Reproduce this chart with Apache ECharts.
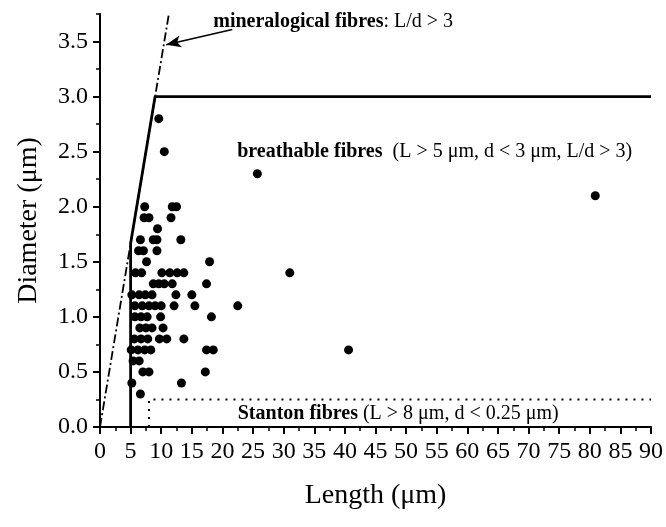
<!DOCTYPE html>
<html>
<head>
<meta charset="utf-8">
<script src="https://cdn.jsdelivr.net/npm/echarts@6/dist/echarts.min.js"></script>
<style>
html,body{margin:0;padding:0;background:#fff;}
#chart{width:666px;height:527px;}
</style>
</head>
<body>
<div id="chart"></div>
<script>
// ---- Data ----
const fibreLength = [
  9.6, 10.5, 25.7, 80.9,
  7.3, 11.8, 12.5,
  7.2, 8.0, 11.6,
  9.4,
  6.6, 8.7, 9.3, 13.2,
  6.3, 7.1, 9.3,
  7.6, 17.9,
  5.8, 6.8, 10.1, 11.4, 12.6, 13.7, 31.0,
  8.7, 9.6, 10.5, 11.8, 17.4,
  5.2, 6.4, 7.4, 8.5, 12.4, 15.0,
  5.7, 6.9, 8.0, 9.0, 10.0, 12.1, 15.5, 22.5,
  5.7, 6.7, 7.7, 9.9, 18.2,
  6.5, 7.5, 8.5, 10.3,
  5.6, 6.7, 7.8, 9.7, 10.9, 13.7,
  5.1, 6.2, 7.3, 8.3, 17.4, 18.5, 40.6,
  5.4, 6.4,
  7.0, 8.0, 17.2,
  5.2, 13.3,
  6.6
];
const fibreDiameter = [
  2.8, 2.5, 2.3, 2.1,
  2.0, 2.0, 2.0,
  1.9, 1.9, 1.9,
  1.8,
  1.7, 1.7, 1.7, 1.7,
  1.6, 1.6, 1.6,
  1.5, 1.5,
  1.4, 1.4, 1.4, 1.4, 1.4, 1.4, 1.4,
  1.3, 1.3, 1.3, 1.3, 1.3,
  1.2, 1.2, 1.2, 1.2, 1.2, 1.2,
  1.1, 1.1, 1.1, 1.1, 1.1, 1.1, 1.1, 1.1,
  1.0, 1.0, 1.0, 1.0, 1.0,
  0.9, 0.9, 0.9, 0.9,
  0.8, 0.8, 0.8, 0.8, 0.8, 0.8,
  0.7, 0.7, 0.7, 0.7, 0.7, 0.7, 0.7,
  0.6, 0.6,
  0.5, 0.5, 0.5,
  0.4, 0.4,
  0.3
];
// Breathable-fibre boundary (L = 5, L/d = 3, d = 3)
const breathableX = [5, 5, 9, 90];
const breathableY = [0, 5/3, 3, 3];
// Mineralogical criterion L/d = 3
const mineralX = [0, 11.25];
const mineralY = [0, 3.75];
// Stanton boundary (L = 8, d = 0.25)
const stantonX = [8, 8, 90];
const stantonY = [0, 0.25, 0.25];
// Axis ticks
const xTicks = [0,5,10,15,20,25,30,35,40,45,50,55,60,65,70,75,80,85,90];
const yMajorTicks = [0, 0.5, 1.0, 1.5, 2.0, 2.5, 3.0, 3.5];
const yMinorTicks = [0.25, 0.75, 1.25, 1.75, 2.25, 2.75, 3.25, 3.75];
// Annotations (data coordinates of text start)
const annotationX = [18.5, 22.4, 22.5];
const annotationY = [3.68, 2.50, 0.12];
const annotationText = [
  '{b|mineralogical fibres}: L/d > 3',
  '{b|breathable fibres}  (L > 5 μm, d < 3 μm, L/d > 3)',
  '{b|Stanton fibres} (L > 8 μm, d < 0.25 μm)'
];
const arrowFrom = [21.6, 3.61];
const arrowTo = [10.8, 3.47];

const FONT = '"Liberation Serif", "Times New Roman", serif';
const zip = (a, b) => a.map((v, i) => [v, b[i]]);

const chart = echarts.init(document.getElementById('chart'), null, {renderer: 'canvas'});
const axisCommon = {
  axisLine: {show: true, lineStyle: {color: '#000', width: 2}},
  splitLine: {show: false},
  nameTextStyle: {fontFamily: FONT, fontSize: 28, color: '#000'}
};
chart.setOption({
  animation: false,
  backgroundColor: '#fff',
  grid: {left: 100, right: 15, top: 14, bottom: 100, containLabel: false},
  xAxis: {
    ...axisCommon,
    type: 'value', min: 0, max: 90, interval: 5,
    name: 'Length (μm)', nameLocation: 'middle', nameGap: 55,
    axisTick: {show: true, length: 7, lineStyle: {color: '#000', width: 2}},
    minorTick: {show: true, splitNumber: 2, length: 4, lineStyle: {color: '#000', width: 1.5}},
    axisLabel: {fontFamily: FONT, fontSize: 24, color: '#000', margin: 13}
  },
  yAxis: [{
    ...axisCommon,
    type: 'value', min: 0, max: 3.75,
    name: 'Diameter (μm)', nameLocation: 'middle', nameGap: 57,
    axisTick: {show: true, length: 7, customValues: yMajorTicks, lineStyle: {color: '#000', width: 2}},
    axisLabel: {fontFamily: FONT, fontSize: 24, color: '#000', margin: 12,
      customValues: yMajorTicks, formatter: v => v.toFixed(1)}
  }, {
    type: 'value', min: 0, max: 3.75, position: 'left',
    axisLine: {show: false}, splitLine: {show: false},
    axisLabel: {show: false},
    axisTick: {show: true, length: 4, customValues: yMinorTicks, lineStyle: {color: '#000', width: 1.5}}
  }],
  series: [
    {
      type: 'line', data: zip(mineralX, mineralY), symbol: 'none', silent: true,
      lineStyle: {color: '#000', width: 1.8, type: [9, 3, 2, 3]}
    },
    {
      type: 'line', data: zip(breathableX, breathableY), symbol: 'none', silent: true,
      lineStyle: {color: '#000', width: 2.8, type: 'solid'}
    },
    {
      type: 'line', data: zip(stantonX, stantonY), symbol: 'none', silent: true,
      lineStyle: {color: '#000', width: 2, type: [2, 6]}
    },
    {
      type: 'scatter', data: zip(fibreLength, fibreDiameter),
      symbol: 'circle', symbolSize: 9,
      itemStyle: {color: '#000', opacity: 1}
    },
    {
      type: 'scatter', data: zip(annotationX, annotationY), symbolSize: 0, silent: true,
      itemStyle: {opacity: 1},
      label: {
        show: true, position: 'right', distance: 0,
        formatter: p => annotationText[p.dataIndex],
        fontFamily: FONT, fontSize: 20, color: '#000',
        rich: {b: {fontFamily: FONT, fontSize: 20, fontWeight: 'bold', color: '#000'}}
      },
      markLine: {
        silent: true, symbol: ['none', 'arrow'], symbolSize: [9, 15],
        label: {show: false},
        lineStyle: {color: '#000', width: 1.6, type: 'solid'},
        data: [[{coord: arrowFrom}, {coord: arrowTo}]]
      }
    }
  ]
});
</script>
</body>
</html>
